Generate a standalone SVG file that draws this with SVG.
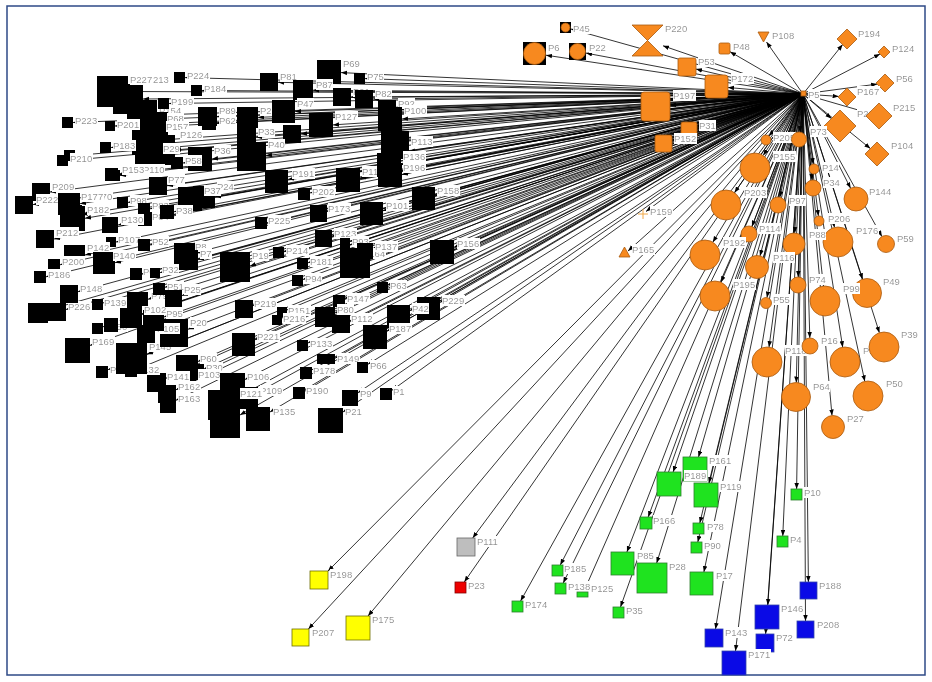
<svg xmlns="http://www.w3.org/2000/svg" width="932" height="682" viewBox="0 0 932 682">
<defs>
<marker id="a" viewBox="0 0 8 6" refX="8" refY="3" markerWidth="6" markerHeight="5" orient="auto" markerUnits="userSpaceOnUse"><path d="M0,0L8,3L0,6z" fill="#000"/></marker>
<filter id="bg" x="0" y="0" width="1" height="1"><feFlood flood-color="#fff"/><feComposite in="SourceGraphic" operator="over"/></filter>
<style>
.e{stroke:#000;stroke-width:.8;fill:none;marker-end:url(#a)}
.o{fill:#F7891F;stroke:#A85A10;stroke-width:.8}
.g{fill:#1FE31F;stroke:#2D7F2D;stroke-width:.8}
.u{fill:#0A0AE6;stroke:#3344AA;stroke-width:.8}
.y{fill:#FFFF00;stroke:#6E6E00;stroke-width:.8}
.k{fill:#000}
text{font-family:"Liberation Sans",Arial,sans-serif;font-size:9.5px;fill:#8C8C8C;filter:url(#bg)}
</style>
</defs>
<rect width="932" height="682" fill="#fff"/>
<rect x="7" y="6" width="918" height="669" fill="none" stroke="#2E4A86" stroke-width="1.5"/>
<g id="connectors">
<path class="e" d="M803 94L185 77.6"/><path class="e" d="M803 94L202 90.5"/><path class="e" d="M803 94L128 91.5"/><path class="e" d="M803 94L143 99"/><path class="e" d="M803 94L169 103.5"/><path class="e" d="M803 94L157 115"/><path class="e" d="M803 94L168 126"/><path class="e" d="M803 94L162 140"/><path class="e" d="M803 94L175 150"/><path class="e" d="M803 94L157 156"/><path class="e" d="M803 94L73 122.5"/><path class="e" d="M803 94L115 126"/><path class="e" d="M803 94L217 116.5"/><path class="e" d="M803 94L216 123"/><path class="e" d="M803 94L111 147.5"/><path class="e" d="M803 94L75 155.5"/><path class="e" d="M803 94L68 160.5"/><path class="e" d="M803 94L183 163"/><path class="e" d="M803 94L212 159"/><path class="e" d="M803 94L118 174.5"/><path class="e" d="M803 94L120 175.5"/><path class="e" d="M803 94L50 192"/><path class="e" d="M803 94L33 204.6"/><path class="e" d="M803 94L82 214.5"/><path class="e" d="M803 94L80 203.7"/><path class="e" d="M803 94L128 202.4"/><path class="e" d="M803 94L150 208.8"/><path class="e" d="M803 94L152 218.8"/><path class="e" d="M803 94L167 185.8"/><path class="e" d="M803 94L215 197"/><path class="e" d="M803 94L202 199"/><path class="e" d="M803 94L174 211.8"/><path class="e" d="M803 94L85 218.3"/><path class="e" d="M803 94L118 225"/><path class="e" d="M803 94L54 239"/><path class="e" d="M803 94L116 242"/><path class="e" d="M803 94L150 245"/><path class="e" d="M803 94L85 255"/><path class="e" d="M803 94L115 262.7"/><path class="e" d="M803 94L195 253"/><path class="e" d="M803 94L198 259.6"/><path class="e" d="M803 94L250 266"/><path class="e" d="M803 94L60 264.8"/><path class="e" d="M803 94L46 276.8"/><path class="e" d="M803 94L142 273.8"/><path class="e" d="M803 94L160 272.7"/><path class="e" d="M803 94L267 222.8"/><path class="e" d="M803 94L284 251.8"/><path class="e" d="M803 94L308 262.8"/><path class="e" d="M803 94L303 279.5"/><path class="e" d="M803 94L332 236.1"/><path class="e" d="M803 94L350 241.5"/><path class="e" d="M803 94L373 248.4"/><path class="e" d="M803 94L370 257.9"/><path class="e" d="M803 94L454 247.3"/><path class="e" d="M803 94L327 211.6"/><path class="e" d="M803 94L383 210.7"/><path class="e" d="M803 94L435 195.8"/><path class="e" d="M803 94L310 192.9"/><path class="e" d="M803 94L360 178.1"/><path class="e" d="M803 94L288 179.4"/><path class="e" d="M803 94L388 285"/><path class="e" d="M803 94L345 298.4"/><path class="e" d="M803 94L440 302.4"/><path class="e" d="M803 94L410 310.7"/><path class="e" d="M803 94L253 305.7"/><path class="e" d="M803 94L287 310"/><path class="e" d="M803 94L282 318"/><path class="e" d="M803 94L335 313"/><path class="e" d="M803 94L350 320.7"/><path class="e" d="M803 94L387 331.1"/><path class="e" d="M803 94L255 339.8"/><path class="e" d="M803 94L308 343"/><path class="e" d="M803 94L335 358.2"/><path class="e" d="M803 94L368 364.2"/><path class="e" d="M803 94L312 369.8"/><path class="e" d="M803 94L305 389.5"/><path class="e" d="M803 94L358 392.7"/><path class="e" d="M803 94L392 390.3"/><path class="e" d="M803 94L270 412"/><path class="e" d="M803 94L343 412"/><path class="e" d="M803 94L245 379.5"/><path class="e" d="M803 94L258 392.3"/><path class="e" d="M803 94L238 397"/><path class="e" d="M803 94L240 415"/><path class="e" d="M803 94L198 361.5"/><path class="e" d="M803 94L204 369"/><path class="e" d="M803 94L196 375.5"/><path class="e" d="M803 94L166 378.3"/><path class="e" d="M803 94L176 389.8"/><path class="e" d="M803 94L176 400.3"/><path class="e" d="M803 94L108 369.7"/><path class="e" d="M803 94L137 369.3"/><path class="e" d="M803 94L147 354.3"/><path class="e" d="M803 94L90 345.4"/><path class="e" d="M803 94L103 326.8"/><path class="e" d="M803 94L118 322.6"/><path class="e" d="M803 94L155 330.2"/><path class="e" d="M803 94L164 317"/><path class="e" d="M803 94L188 329.3"/><path class="e" d="M803 94L142 314"/><path class="e" d="M803 94L103 303"/><path class="e" d="M803 94L148 299.3"/><path class="e" d="M803 94L165 287.3"/><path class="e" d="M803 94L182 295.6"/><path class="e" d="M803 94L66 309.5"/><path class="e" d="M803 94L48 310"/><path class="e" d="M803 94L78 291.7"/><path class="e" d="M803 94L341 72.6"/><path class="e" d="M803 94L278 82.3"/><path class="e" d="M803 94L365 78.6"/><path class="e" d="M803 94L313 90.2"/><path class="e" d="M803 94L351 97"/><path class="e" d="M803 94L373 99"/><path class="e" d="M803 94L295 111.4"/><path class="e" d="M803 94L258 117.4"/><path class="e" d="M803 94L396 109"/><path class="e" d="M803 94L402 119"/><path class="e" d="M803 94L333 124.9"/><path class="e" d="M803 94L256 137.3"/><path class="e" d="M803 94L266 155.6"/><path class="e" d="M803 94L301 134"/><path class="e" d="M803 94L409 151.5"/><path class="e" d="M803 94L401 164.7"/><path class="e" d="M803 94L402 174.6"/>
<path class="e" d="M803 94L328 571"/><path class="e" d="M803 94L308.4 629"/><path class="e" d="M803 94L368 616"/><path class="e" d="M803 94L472.7 538"/><path class="e" d="M803 94L464.3 582"/><path class="e" d="M803 94L560.3 565"/><path class="e" d="M803 94L563.2 583"/><path class="e" d="M803 94L583.6 592"/><path class="e" d="M803 94L520.6 601"/><path class="e" d="M803 94L620.5 607"/><path class="e" d="M803 94L648.2 517"/><path class="e" d="M803 94L626.9 552"/><path class="e" d="M803 94L656.7 563"/><path class="e" d="M803 94L673.1 472"/><path class="e" d="M803 94L698.5 457"/><path class="e" d="M803 94L708.9 483"/><path class="e" d="M803 94L699.8 523"/><path class="e" d="M803 94L697.8 542"/><path class="e" d="M803 94L703.9 572"/><path class="e" d="M803 94L796.6 489"/><path class="e" d="M803 94L782.75 536"/><path class="e" d="M803 94L808.4 582"/><path class="e" d="M803 94L805.5 621"/><path class="e" d="M803 94L767.8 605"/><path class="e" d="M803 94L765.6 634"/><path class="e" d="M803 94L715.5 629"/><path class="e" d="M803 94L735.5 651"/>
<path class="e" d="M803 94L571 29"/><path class="e" d="M803 94L546 55.2"/><path class="e" d="M803 94L586 53.1"/><path class="e" d="M803 94L663 45.8"/><path class="e" d="M803 94L696 69.1"/><path class="e" d="M803 94L728 87.5"/><path class="e" d="M803 94L730 51.7"/><path class="e" d="M803 94L766.5 42"/><path class="e" d="M803 94L670 105.3"/><path class="e" d="M803 94L697 127.5"/><path class="e" d="M803 94L672 140.5"/><path class="e" d="M803 94L842.6 44.6"/><path class="e" d="M803 94L880 54"/><path class="e" d="M803 94L877.1 84.1"/><path class="e" d="M803 94L838.6 96.4"/><path class="e" d="M803 94L868.9 113.1"/><path class="e" d="M803 94L831.4 118.6"/><path class="e" d="M803 94L870.4 148.6"/>
<path class="e" d="M803 94L769.1 136.1"/><path class="e" d="M803 94L799.7 132"/><path class="e" d="M803 94L763.2 155.4"/><path class="e" d="M803 94L813.3 164.1"/><path class="e" d="M803 94L812.2 180"/><path class="e" d="M803 94L850.6 188.3"/><path class="e" d="M803 94L734.5 192.7"/><path class="e" d="M803 94L779.8 197.2"/><path class="e" d="M803 94L646 211.5"/><path class="e" d="M803 94L818.4 216"/><path class="e" d="M803 94L834.5 227.4"/><path class="e" d="M803 94L881.9 236.6"/><path class="e" d="M803 94L794.7 233"/><path class="e" d="M803 94L751.9 226.5"/><path class="e" d="M803 94L628 251"/><path class="e" d="M803 94L712.8 242.2"/><path class="e" d="M803 94L760 255.9"/><path class="e" d="M803 94L798.2 277"/><path class="e" d="M803 94L721 282.2"/><path class="e" d="M803 94L823.4 286.1"/><path class="e" d="M803 94L862.6 279.2"/><path class="e" d="M803 94L767 297.6"/><path class="e" d="M803 94L769 347.1"/><path class="e" d="M803 94L809.8 338"/><path class="e" d="M803 94L796.3 382.5"/><path class="e" d="M803 94L832 415.5"/><path class="e" d="M803 94L842.7 347.2"/><path class="e" d="M803 94L879.4 332.7"/><path class="e" d="M803 94L864.8 381.3"/>
</g>
<g id="nodes-black">
<g id="P213"><rect x="113" y="84" width="30" height="30"/><text x="153" y="83">213</text></g>
<g id="P227"><rect x="97" y="76" width="31" height="31"/><text x="130" y="83">P227</text></g>
<g id="P224"><rect x="174" y="72" width="11" height="11"/><text x="187" y="79">P224</text></g>
<g id="P184"><rect x="191" y="85" width="11" height="11"/><text x="204" y="92">P184</text></g>
<g id="P154"><rect x="127" y="100" width="30" height="30"/><text x="159" y="114">P154</text></g>
<g id="P68"><rect x="140" y="112" width="28" height="28"/><text x="167" y="122">P68</text></g>
<g id="P157"><rect x="132" y="125" width="30" height="30"/><text x="166" y="130">P157</text></g>
<g id="P126"><rect x="145" y="135" width="30" height="30"/><text x="180" y="138">P126</text></g>
<g id="P29"><rect x="135" y="145" width="22" height="22"/><text x="163" y="152">P29</text></g>
<g id="P199"><rect x="158" y="98" width="11" height="11"/><text x="171" y="105">P199</text></g>
<g id="P223"><rect x="62" y="117" width="11" height="11"/><text x="75" y="124">P223</text></g>
<g id="P201"><rect x="105" y="121" width="10" height="10"/><text x="117" y="128">P201</text></g>
<g id="P62"><rect x="202" y="116" width="14" height="14"/><text x="219" y="124">P62</text></g>
<g id="P89"><rect x="198" y="107" width="19" height="19"/><text x="219" y="114">P89</text></g>
<g id="P183"><rect x="100" y="142" width="11" height="11"/><text x="113" y="149">P183</text></g>
<g id="x1"><rect x="64" y="150" width="11" height="11"/></g>
<g id="P210"><rect x="57" y="155" width="11" height="11"/><text x="70" y="162">P210</text></g>
<g id="P36"><rect x="188" y="147" width="24" height="24"/><text x="214" y="154">P36</text></g>
<g id="P58"><rect x="171" y="157" width="12" height="12"/><text x="185" y="164">P58</text></g>
<g id="P110"><rect x="109" y="170" width="11" height="11"/><text x="143" y="173">P110</text></g>
<g id="P153"><rect x="105" y="168" width="13" height="13"/><text x="122" y="173">P153</text></g>
<g id="P209"><rect x="32" y="183" width="18" height="18"/><text x="52" y="190">P209</text></g>
<g id="P222"><rect x="15" y="196" width="18" height="18"/><text x="36" y="203">P222</text></g>
<g id="P170"><rect x="62" y="205" width="20" height="20"/><text x="90" y="200">P170</text></g>
<g id="P177"><rect x="58" y="193" width="22" height="22"/><text x="81" y="200">P177</text></g>
<g id="P182"><rect x="60" y="206" width="25" height="25"/><text x="87" y="213">P182</text></g>
<g id="P98"><rect x="117" y="197" width="11" height="11"/><text x="130" y="204">P98</text></g>
<g id="P83"><rect x="138" y="203" width="12" height="12"/><text x="152" y="209">P83</text></g>
<g id="P84"><rect x="138" y="212" width="14" height="14"/><text x="152" y="220">P84</text></g>
<g id="P77"><rect x="149" y="177" width="18" height="18"/><text x="168" y="183">P77</text></g>
<g id="P24"><rect x="193" y="186" width="22" height="22"/><text x="217" y="190">P24</text></g>
<g id="P37"><rect x="178" y="187" width="24" height="24"/><text x="204" y="194">P37</text></g>
<g id="P38"><rect x="160" y="205" width="14" height="14"/><text x="176" y="214">P38</text></g>
<g id="P130"><rect x="102" y="217" width="16" height="16"/><text x="121" y="223">P130</text></g>
<g id="P212"><rect x="36" y="230" width="18" height="18"/><text x="56" y="236">P212</text></g>
<g id="P107"><rect x="106" y="237" width="10" height="10"/><text x="118" y="243">P107</text></g>
<g id="P52"><rect x="138" y="239" width="12" height="12"/><text x="152" y="245">P52</text></g>
<g id="P142"><rect x="64" y="245" width="21" height="21"/><text x="87" y="251">P142</text></g>
<g id="P140"><rect x="93" y="252" width="22" height="22"/><text x="113" y="259">P140</text></g>
<g id="P8"><rect x="174" y="243" width="21" height="21"/><text x="195" y="250">P8</text></g>
<g id="P7"><rect x="178" y="250" width="20" height="20"/><text x="200" y="257">P7</text></g>
<g id="P19"><rect x="220" y="252" width="30" height="30"/><text x="252" y="259">P19</text></g>
<g id="P200"><rect x="48" y="259" width="12" height="12"/><text x="62" y="265">P200</text></g>
<g id="P186"><rect x="34" y="271" width="12" height="12"/><text x="48" y="278">P186</text></g>
<g id="P61"><rect x="130" y="268" width="12" height="12"/><text x="143" y="275">P61</text></g>
<g id="P32"><rect x="150" y="268" width="10" height="10"/><text x="162" y="273">P32</text></g>
<g id="P225"><rect x="255" y="217" width="12" height="12"/><text x="268" y="224">P225</text></g>
<g id="P214"><rect x="273" y="247" width="11" height="11"/><text x="286" y="254">P214</text></g>
<g id="P181"><rect x="297" y="258" width="11" height="11"/><text x="310" y="265">P181</text></g>
<g id="P94"><rect x="292" y="275" width="11" height="11"/><text x="305" y="282">P94</text></g>
<g id="P123"><rect x="315" y="230" width="17" height="17"/><text x="334" y="237">P123</text></g>
<g id="P93"><rect x="340" y="238" width="10" height="10"/><text x="352" y="245">P93</text></g>
<g id="P164"><rect x="340" y="248" width="30" height="30"/><text x="363" y="257">P164</text></g>
<g id="P137"><rect x="357" y="243" width="16" height="16"/><text x="375" y="250">P137</text></g>
<g id="P156"><rect x="430" y="240" width="24" height="24"/><text x="457" y="247">P156</text></g>
<g id="P173"><rect x="310" y="205" width="17" height="17"/><text x="328" y="212">P173</text></g>
<g id="P101"><rect x="360" y="202" width="23" height="23"/><text x="386" y="209">P101</text></g>
<g id="P158"><rect x="412" y="187" width="23" height="23"/><text x="437" y="194">P158</text></g>
<g id="P202"><rect x="298" y="188" width="12" height="12"/><text x="312" y="195">P202</text></g>
<g id="P115"><rect x="336" y="168" width="24" height="24"/><text x="362" y="175">P115</text></g>
<g id="P191"><rect x="265" y="170" width="23" height="23"/><text x="292" y="177">P191</text></g>
<g id="P63"><rect x="377" y="282" width="11" height="11"/><text x="390" y="289">P63</text></g>
<g id="P147"><rect x="333" y="295" width="12" height="12"/><text x="347" y="302">P147</text></g>
<g id="P229"><rect x="417" y="297" width="23" height="23"/><text x="442" y="304">P229</text></g>
<g id="P42"><rect x="387" y="305" width="23" height="23"/><text x="412" y="312">P42</text></g>
<g id="P219"><rect x="235" y="300" width="18" height="18"/><text x="254" y="307">P219</text></g>
<g id="P151"><rect x="277" y="307" width="10" height="10"/><text x="288" y="314">P151</text></g>
<g id="P216"><rect x="272" y="315" width="10" height="10"/><text x="283" y="322">P216</text></g>
<g id="P80"><rect x="315" y="307" width="20" height="20"/><text x="337" y="313">P80</text></g>
<g id="P112"><rect x="332" y="315" width="18" height="18"/><text x="351" y="322">P112</text></g>
<g id="P187"><rect x="363" y="325" width="24" height="24"/><text x="389" y="332">P187</text></g>
<g id="P221"><rect x="232" y="333" width="23" height="23"/><text x="257" y="340">P221</text></g>
<g id="P133"><rect x="297" y="340" width="11" height="11"/><text x="310" y="347">P133</text></g>
<g id="P149"><rect x="317" y="354" width="18" height="10"/><text x="337" y="362">P149</text></g>
<g id="P66"><rect x="357" y="362" width="11" height="11"/><text x="370" y="369">P66</text></g>
<g id="P178"><rect x="300" y="367" width="12" height="12"/><text x="313" y="374">P178</text></g>
<g id="P190"><rect x="293" y="387" width="12" height="12"/><text x="306" y="394">P190</text></g>
<g id="P9"><rect x="342" y="390" width="16" height="16"/><text x="360" y="397">P9</text></g>
<g id="P1"><rect x="380" y="388" width="12" height="12"/><text x="393" y="395">P1</text></g>
<g id="P21"><rect x="318" y="408" width="25" height="25"/><text x="345" y="415">P21</text></g>
<g id="P30"><rect x="188" y="364" width="16" height="16"/><text x="206" y="371">P30</text></g>
<g id="P60"><rect x="176" y="355" width="22" height="22"/><text x="200" y="362">P60</text></g>
<g id="P103"><rect x="180" y="371" width="16" height="16"/><text x="198" y="378">P103</text></g>
<g id="P106"><rect x="220" y="373" width="25" height="25"/><text x="247" y="380">P106</text></g>
<g id="P109"><rect x="236" y="387" width="22" height="22"/><text x="260" y="394">P109</text></g>
<g id="x3"><rect x="210" y="408" width="30" height="30"/></g>
<g id="P121"><rect x="208" y="390" width="30" height="30"/><text x="240" y="397">P121</text></g>
<g id="P135"><rect x="246" y="407" width="24" height="24"/><text x="273" y="415">P135</text></g>
<g id="P141"><rect x="147" y="373" width="19" height="19"/><text x="167" y="380">P141</text></g>
<g id="P162"><rect x="158" y="385" width="18" height="18"/><text x="178" y="390">P162</text></g>
<g id="P163"><rect x="160" y="397" width="16" height="16"/><text x="178" y="402">P163</text></g>
<g id="P193"><rect x="96" y="366" width="12" height="12"/><text x="110" y="373">P193</text></g>
<g id="P132"><rect x="125" y="365" width="12" height="12"/><text x="137" y="373">P132</text></g>
<g id="P145"><rect x="116" y="343" width="31" height="31"/><text x="149" y="350">P145</text></g>
<g id="P169"><rect x="65" y="338" width="25" height="25"/><text x="92" y="345">P169</text></g>
<g id="P150"><rect x="92" y="323" width="11" height="11"/><text x="105" y="330">P150</text></g>
<g id="P122"><rect x="104" y="318" width="14" height="14"/><text x="120" y="325">P122</text></g>
<g id="P20"><rect x="160" y="319" width="28" height="28"/><text x="190" y="326">P20</text></g>
<g id="P105"><rect x="137" y="325" width="18" height="18"/><text x="157" y="332">P105</text></g>
<g id="P95"><rect x="143" y="310" width="21" height="21"/><text x="166" y="317">P95</text></g>
<g id="P102"><rect x="120" y="306" width="22" height="22"/><text x="144" y="313">P102</text></g>
<g id="P139"><rect x="92" y="299" width="11" height="11"/><text x="104" y="306">P139</text></g>
<g id="P79"><rect x="127" y="292" width="21" height="14"/><text x="151" y="299">P79</text></g>
<g id="P51"><rect x="153" y="283" width="12" height="12"/><text x="167" y="290">P51</text></g>
<g id="P25"><rect x="165" y="290" width="17" height="17"/><text x="184" y="293">P25</text></g>
<g id="x4"><rect x="28" y="303" width="20" height="20"/></g>
<g id="P226"><rect x="48" y="303" width="18" height="18"/><text x="68" y="310">P226</text></g>
<g id="P148"><rect x="60" y="285" width="18" height="18"/><text x="80" y="292">P148</text></g>
<g id="P69"><rect x="317" y="60" width="24" height="24"/><text x="343" y="67">P69</text></g>
<g id="P81"><rect x="260" y="73" width="18" height="18"/><text x="280" y="80">P81</text></g>
<g id="P75"><rect x="354" y="73" width="11" height="11"/><text x="367" y="80">P75</text></g>
<g id="P87"><rect x="293" y="80" width="20" height="20"/><text x="316" y="88">P87</text></g>
<g id="P91"><rect x="333" y="88" width="18" height="18"/><text x="353" y="95">P91</text></g>
<g id="P82"><rect x="355" y="90" width="18" height="18"/><text x="375" y="97">P82</text></g>
<g id="P2x"><rect x="237" y="107" width="21" height="21"/><text x="260" y="114">P2</text></g>
<g id="P47"><rect x="272" y="100" width="23" height="23"/><text x="297" y="107">P47</text></g>
<g id="P92"><rect x="378" y="100" width="18" height="18"/><text x="398" y="107">P92</text></g>
<g id="P100"><rect x="378" y="107" width="24" height="24"/><text x="404" y="114">P100</text></g>
<g id="P127"><rect x="309" y="113" width="24" height="24"/><text x="335" y="120">P127</text></g>
<g id="P33"><rect x="237" y="128" width="19" height="19"/><text x="258" y="135">P33</text></g>
<g id="x5"><rect x="283" y="125" width="18" height="18"/></g>
<g id="P40"><rect x="237" y="142" width="29" height="29"/><text x="268" y="148">P40</text></g>
<g id="P113"><rect x="381" y="131" width="28" height="28"/><text x="411" y="145">P113</text></g>
<g id="P136"><rect x="377" y="153" width="24" height="24"/><text x="403" y="160">P136</text></g>
<g id="P196"><rect x="378" y="163" width="24" height="24"/><text x="403" y="171">P196</text></g>
</g>
<g id="nodes-orange">
<g id="P45"><rect x="560" y="22" width="11" height="11"/><circle class="o" cx="565.5" cy="27.5" r="4.5"/><text x="573" y="32">P45</text></g>
<g id="P6"><rect x="523" y="42" width="23" height="23"/><circle class="o" cx="534.5" cy="53.5" r="11"/><text x="548" y="51">P6</text></g>
<g id="P22"><rect x="569" y="43" width="17" height="17"/><circle class="o" cx="577.5" cy="51.5" r="8"/><text x="589" y="51">P22</text></g>
<g id="P220"><polygon class="o" points="632,25 663,25 647.5,40.5 663,56 632,56 647.5,40.5"/><text x="665" y="32">P220</text></g>
<g id="P53"><rect class="o" x="678" y="58" width="18" height="18" rx="2"/><text x="698" y="65">P53</text></g>
<g id="P172"><rect class="o" x="705" y="75" width="23" height="23" rx="3"/><text x="731" y="82">P172</text></g>
<g id="P48"><rect class="o" x="719" y="43" width="11" height="11" rx="1.5"/><text x="733" y="50">P48</text></g>
<g id="P108"><polygon class="o" points="758,32 769,32 763.5,42"/><text x="772" y="39">P108</text></g>
<g id="P197"><rect class="o" x="641" y="92" width="29" height="29" rx="3"/><text x="673" y="99">P197</text></g>
<g id="P31"><rect class="o" x="681" y="122" width="16" height="16" rx="2"/><text x="699" y="129">P31</text></g>
<g id="P152"><rect class="o" x="655" y="135" width="17" height="17" rx="2"/><text x="674" y="142">P152</text></g>
<g id="P194"><polygon class="o" points="847,29 857,39 847,49 837,39"/><text x="858" y="37">P194</text></g>
<g id="P124"><polygon class="o" points="884,46 890,52 884,58 878,52"/><text x="892" y="52">P124</text></g>
<g id="P56"><polygon class="o" points="885,74 894,83 885,92 876,83"/><text x="896" y="82">P56</text></g>
<g id="P167"><polygon class="o" points="847,88 856,97 847,106 838,97"/><text x="857" y="95">P167</text></g>
<g id="P26"><polygon class="o" points="840,110 856,126 840,142 824,126"/><text x="857" y="117">P26</text></g>
<g id="P215"><polygon class="o" points="879,103 892,116 879,129 866,116"/><text x="893" y="111">P215</text></g>
<g id="P104"><polygon class="o" points="877,142 889,154 877,166 865,154"/><text x="891" y="149">P104</text></g>
<g id="P205"><circle class="o" cx="766" cy="140" r="5"/><text x="773" y="141">P205</text></g>
<g id="P73"><circle class="o" cx="799" cy="139.5" r="7.5"/><text x="810" y="135">P73</text></g>
<g id="P155"><circle class="o" cx="755" cy="168" r="15"/><text x="773" y="160">P155</text></g>
<g id="P14"><circle class="o" cx="814" cy="169" r="5"/><text x="822" y="171">P14</text></g>
<g id="P34"><circle class="o" cx="813" cy="188" r="8"/><text x="823" y="186">P34</text></g>
<g id="P144"><circle class="o" cx="856" cy="199" r="12"/><text x="869" y="195">P144</text></g>
<g id="P203"><circle class="o" cx="726" cy="205" r="15"/><text x="744" y="196">P203</text></g>
<g id="P97"><circle class="o" cx="778" cy="205" r="8"/><text x="789" y="204">P97</text></g>
<g id="P159"><path d="M638 214H648M643 209V219" stroke="#F0A848" stroke-width="1"/><text x="650" y="215">P159</text></g>
<g id="P206"><circle class="o" cx="819" cy="221" r="5"/><text x="828" y="222">P206</text></g>
<g id="P176"><circle class="o" cx="838" cy="242" r="15"/><text x="856" y="234">P176</text></g>
<g id="P59"><circle class="o" cx="886" cy="244" r="8.5"/><text x="897" y="242">P59</text></g>
<g id="P88"><circle class="o" cx="794" cy="244" r="11"/><text x="809" y="238">P88</text></g>
<g id="P114"><circle class="o" cx="749" cy="234" r="8"/><text x="759" y="232">P114</text></g>
<g id="P165"><polygon class="o" points="619,257 630,257 624.5,247"/><text x="632" y="253">P165</text></g>
<g id="P192"><circle class="o" cx="705" cy="255" r="15"/><text x="723" y="246">P192</text></g>
<g id="P116"><circle class="o" cx="757" cy="267" r="11.5"/><text x="773" y="261">P116</text></g>
<g id="P74"><circle class="o" cx="798" cy="285" r="8"/><text x="809" y="283">P74</text></g>
<g id="P195"><circle class="o" cx="715" cy="296" r="15"/><text x="733" y="288">P195</text></g>
<g id="P49"><circle class="o" cx="867" cy="293" r="14.5"/><text x="883" y="285">P49</text></g>
<g id="P99"><circle class="o" cx="825" cy="301" r="15"/><text x="843" y="292">P99</text></g>
<g id="P55"><circle class="o" cx="766" cy="303" r="5.5"/><text x="773" y="303">P55</text></g>
<g id="P118"><circle class="o" cx="767" cy="362" r="15"/><text x="785" y="354">P118</text></g>
<g id="P16"><circle class="o" cx="810" cy="346" r="8"/><text x="821" y="344">P16</text></g>
<g id="P64"><circle class="o" cx="796" cy="397" r="14.5"/><text x="813" y="390">P64</text></g>
<g id="P27"><circle class="o" cx="833" cy="427" r="11.5"/><text x="847" y="422">P27</text></g>
<g id="P180"><circle class="o" cx="845" cy="362" r="15"/><text x="863" y="354">P180</text></g>
<g id="P39"><circle class="o" cx="884" cy="347" r="15"/><text x="901" y="338">P39</text></g>
<g id="P50"><circle class="o" cx="868" cy="396" r="15"/><text x="886" y="387">P50</text></g>
<g id="P5"><rect class="o" x="801" y="91" width="5" height="5"/><text x="808" y="98">P5</text></g>
</g>
<g id="nodes-bottom">
<g id="P161"><rect class="g" x="683" y="457" width="24" height="24"/><text x="709" y="464">P161</text></g>
<g id="P189"><rect class="g" x="657" y="472" width="24" height="24"/><text x="684" y="479">P189</text></g>
<g id="P119"><rect class="g" x="694" y="483" width="24" height="24"/><text x="720" y="490">P119</text></g>
<g id="P166"><rect class="g" x="640" y="517" width="12" height="12"/><text x="653" y="524">P166</text></g>
<g id="P78"><rect class="g" x="693" y="523" width="11" height="11"/><text x="707" y="530">P78</text></g>
<g id="P90"><rect class="g" x="691" y="542" width="11" height="11"/><text x="704" y="549">P90</text></g>
<g id="P85"><rect class="g" x="611" y="552" width="23" height="23"/><text x="637" y="559">P85</text></g>
<g id="P28"><rect class="g" x="637" y="563" width="30" height="30"/><text x="669" y="570">P28</text></g>
<g id="P17"><rect class="g" x="690" y="572" width="23" height="23"/><text x="716" y="579">P17</text></g>
<g id="P185"><rect class="g" x="552" y="565" width="11" height="11"/><text x="564" y="572">P185</text></g>
<g id="P138"><rect class="g" x="555" y="583" width="11" height="11"/><text x="568" y="590">P138</text></g>
<g id="P125"><rect class="g" x="577" y="592" width="11" height="5"/><text x="591" y="592">P125</text></g>
<g id="P174"><rect class="g" x="512" y="601" width="11" height="11"/><text x="525" y="608">P174</text></g>
<g id="P35"><rect class="g" x="613" y="607" width="11" height="11"/><text x="626" y="614">P35</text></g>
<g id="P10"><rect class="g" x="791" y="489" width="11" height="11"/><text x="804" y="496">P10</text></g>
<g id="P4"><rect class="g" x="777" y="536" width="11" height="11"/><text x="790" y="543">P4</text></g>
<g id="P111"><rect x="457" y="538" width="18" height="18" fill="#BEBEBE" stroke="#666" stroke-width=".8"/><text x="477" y="545">P111</text></g>
<g id="P23"><rect x="455" y="582" width="11" height="11" fill="#EE0000" stroke="#800" stroke-width=".8"/><text x="468" y="589">P23</text></g>
<g id="P188"><rect class="u" x="800" y="582" width="17" height="17"/><text x="819" y="589">P188</text></g>
<g id="P208"><rect class="u" x="797" y="621" width="17" height="17"/><text x="817" y="628">P208</text></g>
<g id="P146"><rect class="u" x="755" y="605" width="24" height="24"/><text x="781" y="612">P146</text></g>
<g id="P72"><rect class="u" x="756" y="634" width="18" height="18"/><text x="776" y="641">P72</text></g>
<g id="P143"><rect class="u" x="705" y="629" width="18" height="18"/><text x="725" y="636">P143</text></g>
<g id="P171"><rect class="u" x="722" y="651" width="24" height="24"/><text x="748" y="658">P171</text></g>
<g id="P198"><rect class="y" x="310" y="571" width="18" height="18"/><text x="330" y="578">P198</text></g>
<g id="P207"><rect class="y" x="292" y="629" width="17" height="17"/><text x="312" y="636">P207</text></g>
<g id="P175"><rect class="y" x="346" y="616" width="24" height="24"/><text x="372" y="623">P175</text></g>
</g>
</svg>
